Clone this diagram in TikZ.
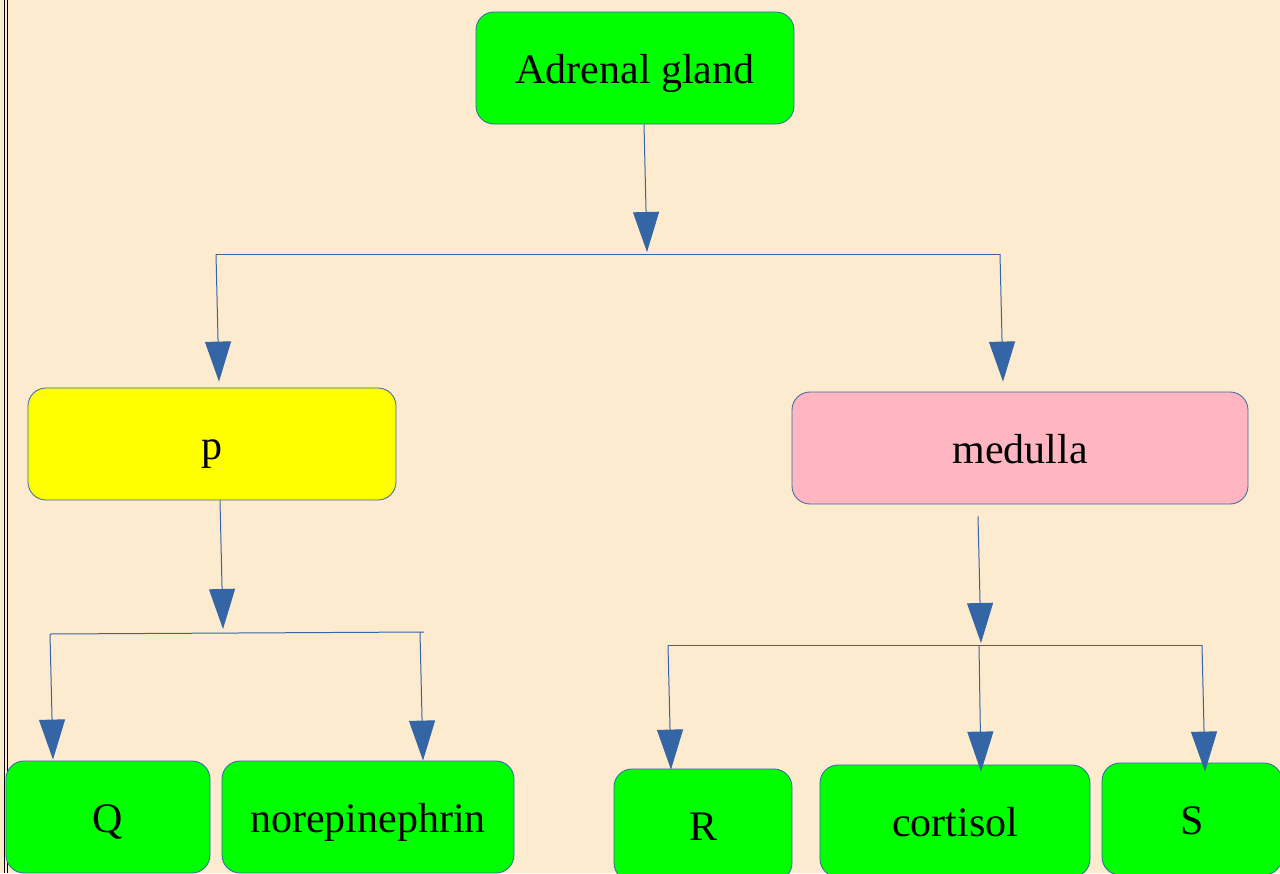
\documentclass[tikz,border=0pt]{standalone}
\usepackage{fontspec}
\setmainfont{Liberation Serif}
\usetikzlibrary{arrows.meta}
\definecolor{bgcream}{HTML}{FDEBD0}
\definecolor{linkblue}{HTML}{3465A4}
\definecolor{boxgreen}{HTML}{00FF00}
\definecolor{boxyellow}{HTML}{FFFF00}
\definecolor{boxpink}{HTML}{FFB6C1}

\begin{document}
\begin{tikzpicture}[x=1pt,y=-1pt,
        box/.style={draw=linkblue,line width=0.8pt,rounded corners=18pt,
            minimum height=112pt,inner sep=0pt,
            font=\fontsize{42}{50}\selectfont,text height=31pt,text depth=0pt},
        link/.style={draw=linkblue,line width=1pt},
        arr/.style={link,-{Triangle[width=26pt,length=40pt]}}]
    \useasboundingbox[fill=bgcream] (0,0) rectangle (1280,873);
    \draw[line width=1pt] (4.5,0) -- (4.5,873);
    \draw[line width=1pt] (7,0) -- (7,873);

    % top level
    \node[box,fill=boxgreen,minimum width=318pt] (adrenal) at (635,68) {Adrenal gland};

    % second level
    \node[box,fill=boxyellow,minimum width=368pt] (p) at (212,444) {p};
    \node[box,fill=boxpink,minimum width=456pt] (medulla) at (1020,448) {medulla};

    % third level
    \node[box,fill=boxgreen,minimum width=204pt] (Q) at (108,817) {Q};
    \node[box,fill=boxgreen,minimum width=292pt] (norepi) at (368,817) {norepinephrin};
    \node[box,fill=boxgreen,minimum width=178pt] (R) at (703,825) {R};
    \node[box,fill=boxgreen,minimum width=270pt] (cortisol) at (955,821) {cortisol};
    \node[box,fill=boxgreen,minimum width=180pt] (S) at (1192,819) {S};

    % junctions
    \coordinate (top) at (647,252);
    \coordinate (topL) at (216,254);
    \coordinate (topR) at (1000,254);
    \coordinate (pj) at (223,629);
    \coordinate (pjL) at (50,634);
    \coordinate (pjR) at (424,632);
    \coordinate (pjR2) at (420,632);
    \coordinate (mj) at (981,643);
    \coordinate (mjL) at (668,645);
    \coordinate (mjM) at (979,645);
    \coordinate (mjR) at (1202,645);

    \draw[arr] ([xshift=9pt]adrenal.south) -- (top);
    \draw[link] (topL) -- (topR);
    \draw[arr] (topL) -- ([xshift=7pt,yshift=6pt]p.north);
    \draw[arr] (topR) -- ([xshift=-17pt,yshift=10pt]medulla.north);

    \draw[arr] ([xshift=8pt]p.south) -- (pj);
    \draw[link] (pjL) -- (pjR);
    \draw[arr] (pjL) -- ([xshift=-55pt,yshift=1pt]Q.north);
    \draw[arr] (pjR2) -- ([xshift=55pt]norepi.north);

    \draw[arr] ([xshift=-42pt,yshift=-12pt]medulla.south) -- (mj);
    \draw[link] (mjL) -- (mjR);
    \draw[arr] (mjL) -- ([xshift=-32pt,yshift=-1pt]R.north);
    \draw[arr] (mjM) -- ([xshift=26pt,yshift=-7pt]cortisol.north);
    \draw[arr] (mjR) -- ([xshift=13pt,yshift=-9pt]S.north);
\end{tikzpicture}
\end{document}
